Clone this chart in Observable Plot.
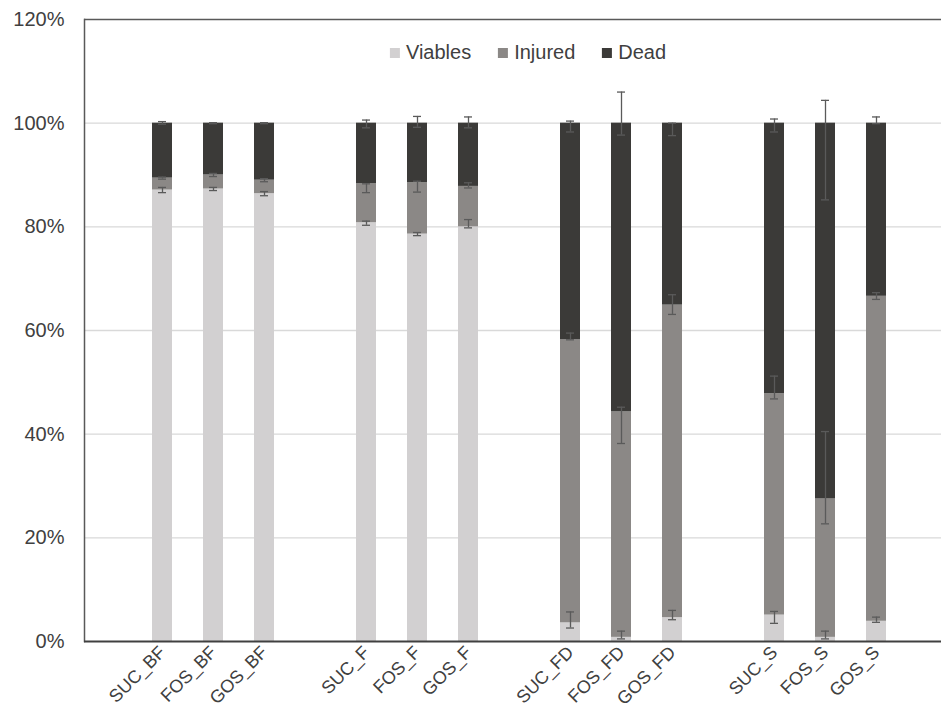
<!DOCTYPE html>
<html>
<head>
<meta charset="utf-8">
<script src="https://cdn.jsdelivr.net/npm/d3@7"></script>
<script src="https://cdn.jsdelivr.net/npm/@observablehq/plot@0.6"></script>
<style>
  html, body { margin: 0; padding: 0; background: #fff; overflow: hidden; }
  #chart { position: relative; width: 941px; height: 713px; font-family: "Liberation Sans", Arial, sans-serif; }
  .legend { position: absolute; top: 41px; left: 528px; transform: translateX(-50%); display: flex; align-items: center; gap: 27px; white-space: nowrap; font-size: 20px; color: #404040; }
  .legend .item { display: flex; align-items: center; }
  .legend .sw { width: 10px; height: 10px; margin-right: 6px; }
</style>
</head>
<body>
<div id="chart"></div>
<script>
// Categories (treatment_condition), drawn in four groups of three
const categories = ["SUC_BF", "FOS_BF", "GOS_BF", "SUC_F", "FOS_F", "GOS_F",
                    "SUC_FD", "FOS_FD", "GOS_FD", "SUC_S", "FOS_S", "GOS_S"];
const groupSize = 3;

// Series order, bottom to top of each stack
const series = ["Viables", "Injured", "Dead"];
const seriesColors = ["#d2d0d1", "#8b8886", "#3b3a38"];

// Share of cells (%) in each state
const viables = [87.1, 87.3, 86.4, 80.8, 78.6, 80.0, 3.6, 0.8, 4.6, 5.1, 0.8, 3.9];
const injured = [2.3, 2.7, 2.6, 7.5, 9.9, 7.8, 54.6, 43.5, 60.3, 42.7, 26.7, 62.7];
const dead    = [10.6, 10.0, 11.0, 11.7, 11.5, 12.2, 41.8, 55.7, 35.1, 52.2, 72.5, 33.4];

// Error bar extents on the cumulative axis (%), low and high, per series
const viablesErrLow  = [86.6, 87.0, 86.0, 80.3, 78.3, 79.8, 2.6, 0.5, 4.2, 3.5, 0.5, 3.7];
const viablesErrHigh = [87.6, 87.6, 86.8, 81.1, 78.9, 81.4, 5.7, 2.0, 6.0, 5.8, 2.0, 4.7];
const injuredErrLow  = [89.2, 89.7, 88.7, 86.6, 86.7, 87.5, 58.2, 38.2, 63.1, 46.8, 22.7, 66.0];
const injuredErrHigh = [89.6, 90.3, 89.3, 88.3, 88.8, 88.5, 59.5, 45.2, 66.9, 51.2, 40.5, 67.3];
const deadErrLow     = [99.8, 99.9, 99.9, 99.1, 99.2, 99.1, 98.3, 97.7, 97.6, 98.3, 85.2, 99.9];
const deadErrHigh    = [100.3, 100.1, 100.1, 100.6, 101.3, 101.2, 100.4, 106.0, 100.0, 100.8, 104.4, 101.2];

const yTicks = [0, 20, 40, 60, 80, 100, 120];

// Band domain with an empty slot between groups
const slots = [];
categories.forEach((c, i) => {
  if (i > 0 && i % groupSize === 0) slots.push(`gap${i}`);
  slots.push(c);
});

const valuesBySeries = {Viables: viables, Injured: injured, Dead: dead};
const barData = [];
for (const s of series) {
  categories.forEach((c, i) => barData.push({cat: c, series: s, value: valuesBySeries[s][i]}));
}

const errData = [];
const errSets = [[viablesErrLow, viablesErrHigh], [injuredErrLow, injuredErrHigh], [deadErrLow, deadErrHigh]];
errSets.forEach(([lo, hi], k) => {
  categories.forEach((c, i) => errData.push({cat: c, series: series[k], lo: lo[i], hi: hi[i]}));
});

const errColor = "#5a5a5a";
const frameColor = "#595959";

const chart = Plot.plot({
  width: 941,
  height: 713,
  marginLeft: 84,
  marginRight: 0,
  marginTop: 19,
  marginBottom: 72,
  style: {fontFamily: "Liberation Sans, Arial, sans-serif", color: "#404040", background: "#fff"},
  x: {domain: slots, paddingInner: 0.61, paddingOuter: 1.18, align: 0.55, label: null},
  y: {domain: [0, 120], label: null},
  color: {domain: series, range: seriesColors},
  marks: [
    Plot.gridY(yTicks.filter(d => d > 0 && d < 120), {stroke: "#d9d9d9", strokeOpacity: 1, strokeWidth: 1.3}),
    Plot.barY(barData, {x: "cat", y: "value", fill: "series", order: series}),
    Plot.ruleX(errData, {x: "cat", y1: "lo", y2: "hi", stroke: errColor, strokeWidth: 1.3}),
    Plot.tickY(errData, {x: "cat", y: "lo", stroke: errColor, strokeWidth: 1.3, inset: 6}),
    Plot.tickY(errData, {x: "cat", y: "hi", stroke: errColor, strokeWidth: 1.3, inset: 6}),
    Plot.ruleY([120], {stroke: frameColor, strokeWidth: 1.5}),
    Plot.frame({anchor: "left", stroke: frameColor, strokeWidth: 1.5}),
    Plot.ruleY([0], {stroke: "#404040", strokeWidth: 2}),
    Plot.axisY(yTicks, {tickSize: 0, tickPadding: 20, tickFormat: d => `${d}%`, fontSize: 20, label: null}),
    Plot.axisX({tickSize: 0, tickPadding: 8, tickRotate: -45, fontSize: 18,
                tickFormat: d => (categories.includes(d) ? d : ""), label: null})
  ]
});

const root = document.getElementById("chart");
root.appendChild(chart);

const legend = document.createElement("div");
legend.className = "legend";
series.forEach((s, i) => {
  const item = document.createElement("div");
  item.className = "item";
  const sw = document.createElement("span");
  sw.className = "sw";
  sw.style.background = seriesColors[i];
  const label = document.createElement("span");
  label.textContent = s;
  item.append(sw, label);
  legend.appendChild(item);
});
root.appendChild(legend);
</script>
</body>
</html>
